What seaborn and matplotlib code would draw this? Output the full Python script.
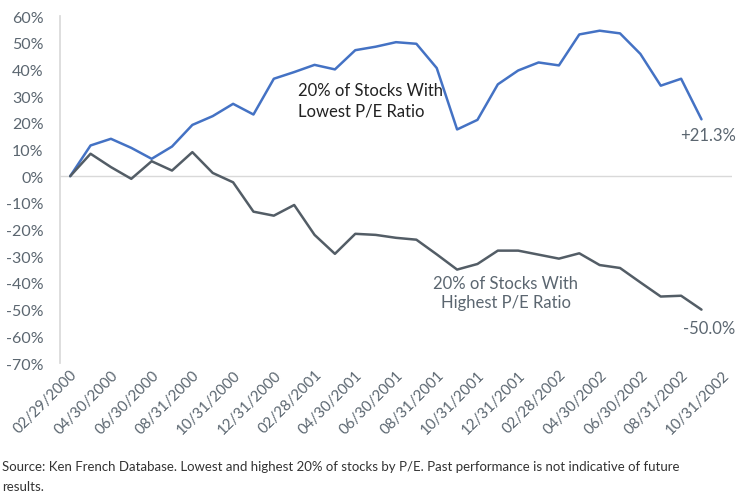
import numpy as np
import pandas as pd
import matplotlib
matplotlib.use("Agg")
import matplotlib.pyplot as plt
import seaborn as sns

# month-end dates on the category axis (last month has no value in the chart)
months = pd.date_range("2000-02-29", "2002-10-31", freq="ME").strftime("%m/%d/%Y").tolist()

# cumulative return, %
low_pe = [0, 11.5, 14.0, 10.6, 6.5, 11.1, 19.2, 22.5, 27.1, 23.1, 36.5, 39.0,
          41.7, 40.0, 47.2, 48.5, 50.2, 49.6, 40.5, 17.5, 21.1, 34.4, 39.6, 42.6,
          41.5, 53.1, 54.5, 53.5, 45.8, 33.9, 36.5, 21.3, np.nan]
high_pe = [0, 8.4, 3.4, -1.0, 5.6, 2.1, 9.0, 1.2, -2.3, -13.3, -14.8, -10.8,
           -22.0, -29.1, -21.6, -22.0, -23.1, -23.8, -29.3, -35.0, -32.9, -27.9, -27.9, -29.4,
           -30.9, -28.9, -33.3, -34.4, -39.8, -45.1, -44.8, -50.0, np.nan]

df = pd.DataFrame({"i": range(len(months)), "low": low_pe, "high": high_pe})

sns.set_theme(style="white")
plt.rcParams["font.family"] = ["Lato", "DejaVu Sans"]

blue = "#4472c4"
slate = "#535d66"
txt = "#5b6670"

fig = plt.figure(figsize=(7.38, 5.02), dpi=100)
ax = fig.add_axes([0.0813, 0.2749, 0.9106, 0.6912])

sns.lineplot(data=df, x="i", y="low", color=blue, lw=1.8, ax=ax)
sns.lineplot(data=df, x="i", y="high", color=slate, lw=1.8, ax=ax)
ax.axhline(0, color="#d9d9d9", lw=1, zorder=0)

ax.set_xlim(-0.5, len(months) - 0.5)
ax.set_ylim(-70, 60)
ax.set_yticks(range(-70, 61, 10))
ax.set_yticklabels([f"{v}%" for v in range(-70, 61, 10)], color=txt, fontsize=11.5)
ax.set_xticks(range(0, len(months), 2))
ax.set_xticklabels(months[::2], rotation=45, ha="right", va="top", rotation_mode="anchor",
                   color=txt, fontsize=10.8)
ax.tick_params(axis="both", length=0, pad=3)
ax.tick_params(axis="y", pad=12)
ax.set_xlabel("")
ax.set_ylabel("")
for s in ["top", "right", "bottom"]:
    ax.spines[s].set_visible(False)
ax.spines["left"].set_color("#d9d9d9")
ax.grid(False)

ax.text(11.2, 28.5, "20% of Stocks With\nLowest P/E Ratio", color="#222222",
        fontsize=12, ha="left", va="center", linespacing=1.3)
ax.text(21.4, -43.6, "20% of Stocks With\nHighest P/E Ratio", color=txt,
        fontsize=12, ha="center", va="center", linespacing=1.3)
ax.text(31.3, 15.3, "+21.3%", color=txt, fontsize=12, ha="center", va="center")
ax.text(31.4, -56.8, "-50.0%", color=txt, fontsize=12, ha="center", va="center")

fig.text(0.003, 0.05, "Source: Ken French Database. Lowest and highest 20% of stocks by P/E. "
         "Past performance is not indicative of future\nresults.",
         color="#333333", fontsize=9.5, ha="left", va="center", linespacing=1.75)

fig.savefig("out.png", dpi=100)
